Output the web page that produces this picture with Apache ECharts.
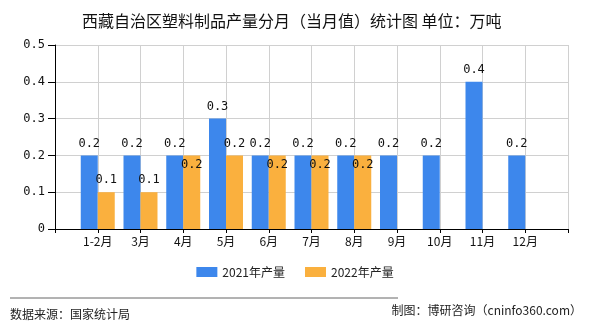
<!DOCTYPE html>
<html><head><meta charset="utf-8">
<script src="https://cdn.jsdelivr.net/npm/echarts@6/dist/echarts.min.js"></script>
<style>html,body{margin:0;padding:0;background:#fff}#c{width:590px;height:330px}</style>
</head><body><div id="c"></div>
<script>
var categories = ['', '1-2月', '3月', '4月', '5月', '6月', '7月', '8月', '9月', '10月', '11月', '12月', ''];
var values2021 = [null, 0.2, 0.2, 0.2, 0.3, 0.2, 0.2, 0.2, 0.2, 0.2, 0.4, 0.2, null];
var values2022 = [null, 0.1, 0.1, 0.2, 0.2, 0.2, 0.2, 0.2, null, null, null, null, null];
var yTicks = [0, 0.1, 0.2, 0.3, 0.4, 0.5];

var chart = echarts.init(document.getElementById('c'), null, {renderer: 'canvas'});
var data2022 = values2022.map(function (v, i) {
  if (v == null) return null;
  if (values2021[i] === v) return {value: v, label: {position: 'insideTop', distance: 3}};
  return v;
});
chart.setOption({
  animation: false,
  title: {
    text: '西藏自治区塑料制品产量分月（当月值）统计图 单位：万吨',
    left: 77, top: 8,
    textStyle: {fontSize: 16, fontWeight: 'normal', color: '#111', fontFamily: '"Noto Sans CJK SC", sans-serif'}
  },
  legend: {
    bottom: 47, left: 'center', itemWidth: 21, itemHeight: 10, itemGap: 20, icon: 'rect',
    textStyle: {fontSize: 12, color: '#222', fontFamily: '"Noto Sans CJK SC", sans-serif'},
    data: ['2021年产量', '2022年产量']
  },
  grid: {left: 55, right: 22, top: 45, bottom: 101, containLabel: false},
  xAxis: {
    type: 'category', data: categories, boundaryGap: false,
    axisLine: {lineStyle: {color: '#000'}},
    axisTick: {show: true, length: 4, lineStyle: {color: '#000'}},
    axisLabel: {color: '#111', fontSize: 12, margin: 6, fontFamily: '"Noto Sans CJK SC", sans-serif'},
    splitLine: {show: true, lineStyle: {color: '#d0d0d0'}}
  },
  yAxis: {
    type: 'value', min: yTicks[0], max: yTicks[yTicks.length - 1], interval: 0.1,
    axisLine: {show: true, lineStyle: {color: '#000'}},
    axisTick: {show: true, length: 7, lineStyle: {color: '#000'}},
    axisLabel: {color: '#111', fontSize: 12, margin: 10, fontFamily: '"DejaVu Sans Mono", monospace',
      formatter: function (v) { return String(Math.round(v * 10) / 10); }},
    splitLine: {show: true, lineStyle: {color: '#d0d0d0'}}
  },
  series: [
    {name: '2021年产量', type: 'bar', data: values2021, barWidth: 17, barGap: '0%',
      itemStyle: {color: '#3D87EC'},
      label: {show: true, position: 'top', distance: 6, color: '#111', fontSize: 12, fontFamily: '"DejaVu Sans Mono", monospace'}},
    {name: '2022年产量', type: 'bar', data: data2022, barWidth: 17, barGap: '0%',
      itemStyle: {color: '#FAB03E'},
      label: {show: true, position: 'top', distance: 6, color: '#111', fontSize: 12, fontFamily: '"DejaVu Sans Mono", monospace'}}
  ],
  graphic: [
    {type: 'line', shape: {x1: 10, y1: 298, x2: 398, y2: 298}, style: {stroke: '#666', lineWidth: 1}},
    {type: 'text', left: 10, top: 308, style: {text: '数据来源：国家统计局', fontSize: 12, fill: '#222', fontFamily: '"Noto Sans CJK SC", sans-serif'}},
    {type: 'text', right: 8, top: 304, style: {text: '制图：博研咨询（cninfo360.com）', fontSize: 12, fill: '#222', fontFamily: '"Noto Sans CJK SC", sans-serif'}}
  ]
});
</script></body></html>
